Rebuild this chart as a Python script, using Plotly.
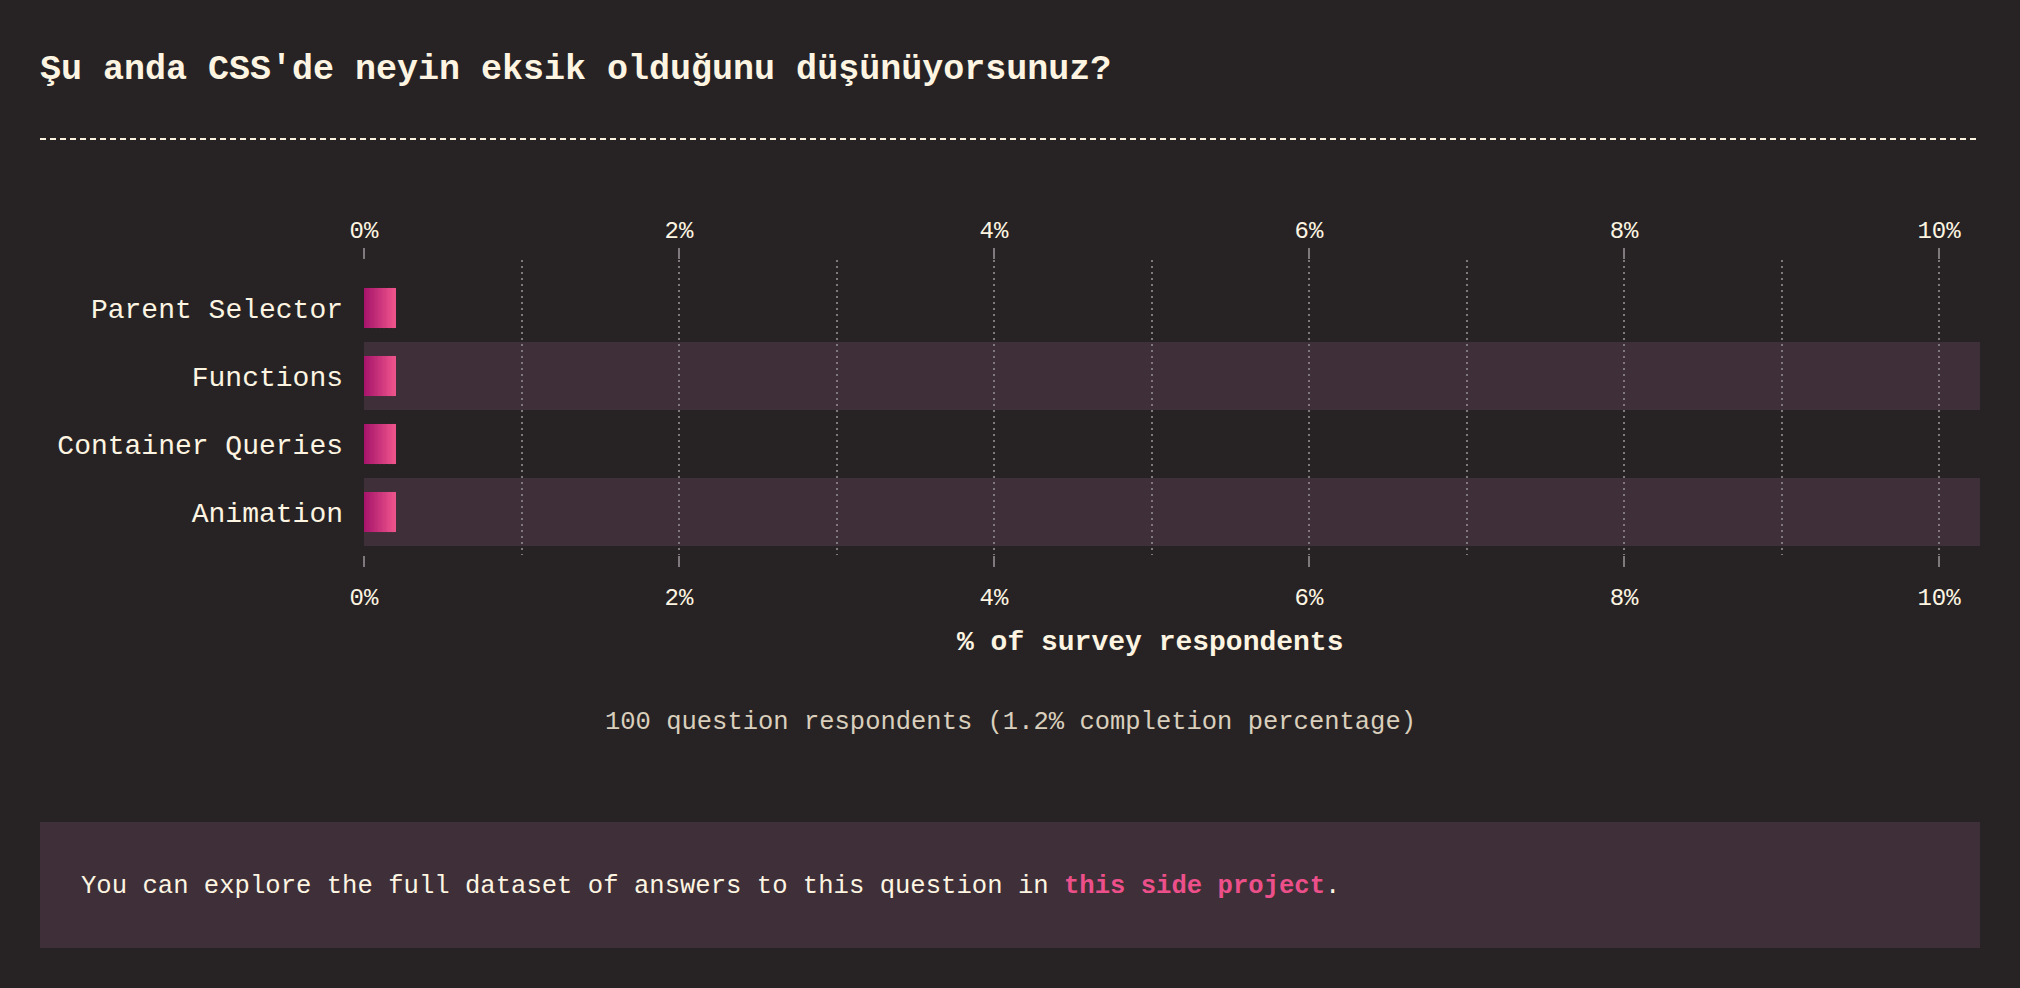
import plotly.graph_objects as go

# ---- data ----
categories = ["Parent Selector", "Functions", "Container Queries", "Animation"]
values = [0.2, 0.2, 0.2, 0.2]  # % of survey respondents
tick_vals = [0, 2, 4, 6, 8, 10]
tick_text = ["0%", "2%", "4%", "6%", "8%", "10%"]
title_text = "Şu anda CSS'de neyin eksik olduğunu düşünüyorsunuz?"
axis_title = "% of survey respondents"
note_text = "100 question respondents (1.2% completion percentage)"

# ---- style ----
W, H = 2020, 988
ML, MR, MT, MB = 364, 40, 260, 433
PW, PH = W - ML - MR, H - MT - MB
BG = "#272324"
BAND = "#3e2f38"
CREAM = "#fdf5e2"
NOTE = "#d9cfbc"
GRID = "#7f797d"
PINK = "#ec4f8a"
FONT = "Liberation Mono, DejaVu Sans Mono, monospace"
C0 = (164, 18, 106)
C1 = (238, 84, 140)


def px_x(px):
    return (px - ML) / PW


def px_y(py):
    return (H - MB - py) / PH


fig = go.Figure()

# gradient bars: split each bar into thin segments with interpolated colours
N = 24
for k in range(N):
    t = (k + 0.5) / N
    col = "rgb(%d,%d,%d)" % tuple(round(a + (b - a) * t) for a, b in zip(C0, C1))
    fig.add_trace(go.Bar(
        y=categories,
        x=[v / N * 1.02 if k < N - 1 else v / N for v in values],
        base=[v * k / N for v in values],
        orientation="h",
        width=0.59,
        marker=dict(color=col, line=dict(width=0)),
        hoverinfo="skip",
        showlegend=False,
    ))

# invisible trace to activate top axis
fig.add_trace(go.Scatter(x=values, y=categories, xaxis="x2", mode="markers",
                         marker=dict(opacity=0), hoverinfo="skip", showlegend=False))

# alternating row bands
shapes = []
for i, c in enumerate(categories):
    if i % 2 == 1:
        shapes.append(dict(type="rect", xref="x domain", yref="y", x0=0, x1=1,
                           y0=i - 0.5, y1=i + 0.5, fillcolor=BAND, line=dict(width=0),
                           layer="below"))
# dashed separator under the title
shapes.append(dict(type="line", xref="paper", yref="paper", x0=px_x(40), x1=px_x(1980),
                   y0=px_y(139), y1=px_y(139), line=dict(color=CREAM, width=2, dash="6px,4px")))
# footer box
shapes.append(dict(type="rect", xref="paper", yref="paper", x0=px_x(40), x1=px_x(1980),
                   y0=px_y(948), y1=px_y(822), fillcolor=BAND, line=dict(width=0), layer="below"))

axis_common = dict(
    range=[0, 10.26],
    tickvals=tick_vals,
    ticktext=tick_text,
    tickfont=dict(family=FONT, size=24, color=CREAM),
    ticks="outside",
    ticklen=11,
    tickwidth=2,
    tickcolor=GRID,
    zeroline=False,
    showline=False,
)

fig.update_layout(
    width=W, height=H,
    margin=dict(l=ML, r=MR, t=MT, b=MB, pad=0),
    paper_bgcolor=BG, plot_bgcolor="rgba(0,0,0,0)",
    barmode="overlay",
    showlegend=False,
    title=dict(text="<b>" + title_text + "</b>", xref="container", yref="container",
               x=40 / W, xanchor="left", y=1 - 67 / H, yanchor="middle",
               font=dict(family=FONT, size=35, color=CREAM)),
    xaxis=dict(
        **axis_common,
        side="bottom",
        showgrid=True, gridcolor=GRID, gridwidth=2, griddash="2px,4px",
        minor=dict(dtick=1, tick0=0, showgrid=True, gridcolor=GRID, gridwidth=2,
                   griddash="2px,4px", ticks=""),
        ticklabelstandoff=9,
    ),
    xaxis2=dict(
        **axis_common,
        side="top", overlaying="x", matches="x",
        showgrid=False,
        ticklabelstandoff=0,
    ),
    yaxis=dict(
        type="category", categoryorder="array", categoryarray=categories,
        range=[3.632, -0.706],
        tickfont=dict(family=FONT, size=28, color=CREAM),
        ticks="", showgrid=False, zeroline=False, showline=False,
        ticklabelstandoff=20,
    ),
    shapes=shapes,
    annotations=[
        dict(text="<b>" + axis_title + "</b>", xref="paper", yref="paper",
             x=px_x(1150), y=px_y(642), xanchor="center", yanchor="middle",
             showarrow=False, font=dict(family=FONT, size=28, color=CREAM)),
        dict(text=note_text, xref="paper", yref="paper",
             x=px_x(1010), y=px_y(722), xanchor="center", yanchor="middle",
             showarrow=False, font=dict(family=FONT, size=25.5, color=NOTE)),
        dict(text="You can explore the full dataset of answers to this question in "
                  "<b><span style='color:%s'>this side project</span></b>." % PINK,
             xref="paper", yref="paper", x=px_x(79), y=px_y(886),
             xanchor="left", yanchor="middle", showarrow=False,
             font=dict(family=FONT, size=25.6, color=CREAM)),
    ],
)

fig.write_html("out.html")
